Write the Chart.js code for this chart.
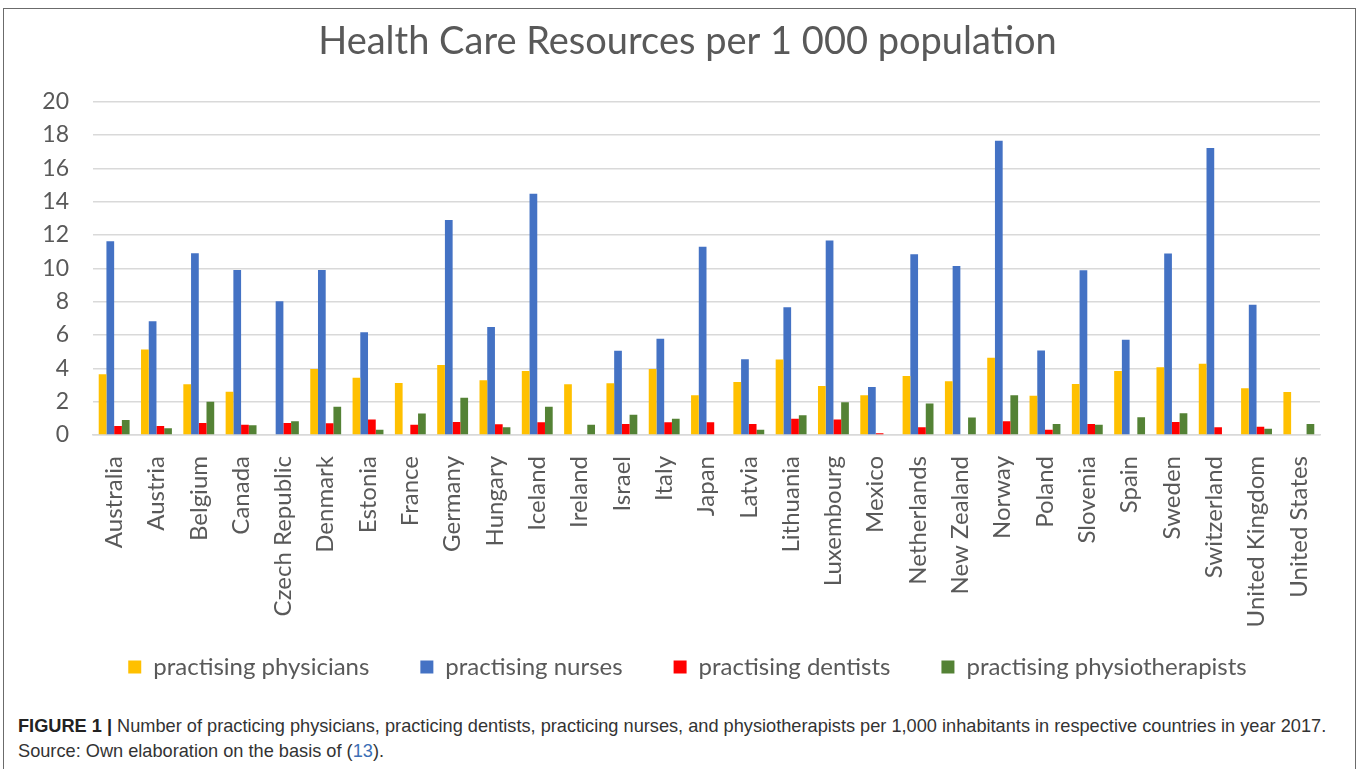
<!DOCTYPE html>
<html lang="en">
<head>
<meta charset="UTF-8">
<title>Health Care Resources per 1 000 population</title>
<style>
    body {
        margin: 0;
        background: #fff;
    }

    .figure {
        position: absolute;
        left: 3px;
        top: 8px;
        width: 1353px;
        height: 780px;
        border: 1px solid #6b6b6b;
        box-sizing: border-box;
    }

    canvas {
        display: block;
    }

    .caption {
        position: absolute;
        left: 14px;
        top: 705px;
        font-family: "Liberation Sans", Arial, sans-serif;
        font-size: 18.2px;
        line-height: 25px;
        color: #333;
        white-space: nowrap;
    }

    .caption b {
        color: #222;
    }

    .caption .ref {
        color: #3c6fb6;
    }
</style>
</head>
<body>
<div class="figure">
    <canvas id="chart" width="1351" height="690"></canvas>
    <div class="caption">
        <b>FIGURE 1 |</b> Number of practicing physicians, practicing dentists, practicing nurses, and physiotherapists per 1,000 inhabitants in respective countries in year 2017.<br>
        Source: Own elaboration on the basis of (<span class="ref">13</span>).
    </div>
</div>
<script src="https://cdn.jsdelivr.net/npm/chart.js"></script>
<script>
    const countries = ['Australia', 'Austria', 'Belgium', 'Canada', 'Czech Republic', 'Denmark', 'Estonia',
        'France', 'Germany', 'Hungary', 'Iceland', 'Ireland', 'Israel', 'Italy', 'Japan', 'Latvia',
        'Lithuania', 'Luxembourg', 'Mexico', 'Netherlands', 'New Zealand', 'Norway', 'Poland',
        'Slovenia', 'Spain', 'Sweden', 'Switzerland', 'United Kingdom', 'United States'];

    const physicians = [3.64, 5.13, 3.04, 2.6, null, 3.96, 3.44, 3.12, 4.2, 3.28, 3.84, 3.04, 3.1, 3.96,
        2.39, 3.18, 4.53, 2.94, 2.39, 3.54, 3.22, 4.63, 2.35, 3.06, 3.84, 4.06, 4.27, 2.8, 2.58];
    const nurses = [11.63, 6.82, 10.9, 9.9, 8.03, 9.9, 6.16, null, 12.9, 6.48, 14.47, null, 5.05, 5.77,
        11.3, 4.55, 7.67, 11.67, 2.88, 10.85, 10.14, 17.65, 5.07, 9.88, 5.71, 10.89, 17.22, 7.81, null];
    const dentists = [0.54, 0.54, 0.72, 0.62, 0.72, 0.7, 0.93, 0.62, 0.78, 0.64, 0.76, null, 0.66, 0.76,
        0.76, 0.66, 0.97, 0.93, 0.1, 0.46, null, 0.82, 0.32, 0.66, null, 0.78, 0.46, 0.5, null];
    const physiotherapists = [0.9, 0.4, 2.0, 0.58, 0.82, 1.69, 0.32, 1.29, 2.23, 0.46, 1.69, 0.62, 1.21,
        0.97, null, 0.32, 1.19, 1.97, null, 1.89, 1.05, 2.39, 0.66, 0.62, 1.07, 1.31, null, 0.38, 0.66];

    const yTicks = [0, 2, 4, 6, 8, 10, 12, 14, 16, 18, 20];

    const textColor = '#595959';
    const font = 'Lato, "Open Sans", sans-serif';

    const series = [
        { label: 'practising physicians', data: physicians, color: '#ffc000' },
        { label: 'practising nurses', data: nurses, color: '#4472c4' },
        { label: 'practising dentists', data: dentists, color: '#ff0000' },
        { label: 'practising physiotherapists', data: physiotherapists, color: '#548235' }
    ];

    // axis boxes are sized by hand below, so let labels spill past them instead of being clipped
    const noLabelClip = axis => { axis._computeLabelArea = () => undefined; };

    new Chart(document.getElementById('chart'), {
        type: 'bar',
        data: {
            labels: countries,
            datasets: series.map(s => ({
                label: s.label,
                data: s.data,
                backgroundColor: s.color,
                borderWidth: 0,
                barPercentage: 1,
                categoryPercentage: 0.73
            }))
        },
        options: {
            responsive: false,
            animation: false,
            layout: {
                padding: { left: 51, right: 35, top: 0, bottom: 10 }
            },
            plugins: {
                title: {
                    display: true,
                    text: 'Health Care Resources per 1 000 population',
                    color: textColor,
                    font: { family: font, size: 38, weight: 'normal' },
                    padding: { top: 10, bottom: 37 }
                },
                legend: {
                    position: 'bottom',
                    labels: {
                        color: textColor,
                        font: { family: font, size: 24 },
                        boxWidth: 13,
                        boxHeight: 13,
                        padding: 51
                    }
                },
                tooltip: { enabled: false }
            },
            scales: {
                x: {
                    grid: { display: false },
                    border: { color: '#d9d9d9', width: 1.5 },
                    afterFit: axis => {
                        axis.height = 169;
                        noLabelClip(axis);
                    },
                    ticks: {
                        color: textColor,
                        font: { family: font, size: 24 },
                        minRotation: 90,
                        maxRotation: 90,
                        autoSkip: false,
                        padding: 13
                    }
                },
                y: {
                    min: 0,
                    max: 20,
                    afterBuildTicks: axis => {
                        axis.ticks = yTicks.map(v => ({ value: v }));
                    },
                    afterFit: axis => {
                        axis.width = 38;
                        noLabelClip(axis);
                    },
                    grid: { color: '#d9d9d9', lineWidth: 1.5, drawTicks: false },
                    border: { display: false },
                    ticks: {
                        color: textColor,
                        font: { family: font, size: 23 },
                        padding: 24
                    }
                }
            }
        }
    });
</script>
</body>
</html>
